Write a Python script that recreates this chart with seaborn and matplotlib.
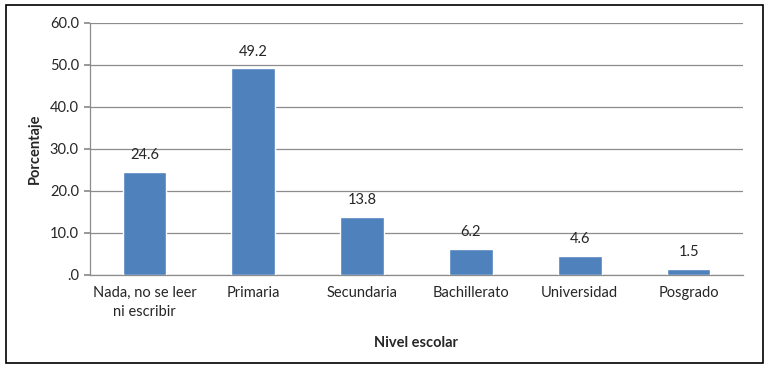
import pandas as pd
import seaborn as sns
import matplotlib.pyplot as plt
from matplotlib.patches import Rectangle
from matplotlib.ticker import FuncFormatter

categorias = ["Nada, no se leer\nni escribir", "Primaria", "Secundaria",
              "Bachillerato", "Universidad", "Posgrado"]
porcentajes = [24.6, 49.2, 13.8, 6.2, 4.6, 1.5]

df = pd.DataFrame({"nivel": categorias, "porcentaje": porcentajes})

sns.set_theme(style="white")
plt.rcParams["font.family"] = ["Lato", "DejaVu Sans"]

fig = plt.figure(figsize=(7.73, 3.75), dpi=100)
ax = fig.add_axes([90 / 773, 1 - 275 / 375, (743 - 90) / 773, (275 - 23) / 375])

sns.barplot(data=df, x="nivel", y="porcentaje", color="#4F81BD",
            width=0.4, saturation=1, ax=ax, zorder=3)

ax.set_ylim(0, 60)
ax.set_yticks(range(0, 61, 10))
ax.yaxis.set_major_formatter(
    FuncFormatter(lambda v, _: ".0" if v == 0 else f"{v:.1f}"))
ax.grid(axis="y", color="#8c8c8c", linewidth=0.9, zorder=0)
ax.set_axisbelow(True)

for s in ["top", "right"]:
    ax.spines[s].set_visible(False)
for s in ["left", "bottom"]:
    ax.spines[s].set_color("#8c8c8c")
    ax.spines[s].set_linewidth(0.9)

ax.tick_params(axis="y", length=4, color="#8c8c8c", labelsize=10.5, pad=4, left=True)
ax.tick_params(axis="x", length=0, labelsize=10.5, pad=8)
for t in ax.get_xticklabels():
    t.set_linespacing(1.45)
    t.set_verticalalignment("top")

ax.set_xlabel("Nivel escolar", fontsize=10.5, fontweight="bold", labelpad=12)
ax.set_ylabel("Porcentaje", fontsize=10.5, fontweight="bold", labelpad=6)

# Valores encima de las barras
for p in ax.patches:
    ax.annotate(f"{p.get_height():.1f}",
                (p.get_x() + p.get_width() / 2, p.get_height()),
                xytext=(0, 7), textcoords="offset points",
                ha="center", va="bottom", fontsize=10.5)

fig.patches.append(Rectangle((6 / 773, 1 - 363 / 375), 757 / 773, 358 / 375,
                             transform=fig.transFigure, fill=False,
                             edgecolor="black", linewidth=1.2))

plt.savefig("out.png", dpi=100)
